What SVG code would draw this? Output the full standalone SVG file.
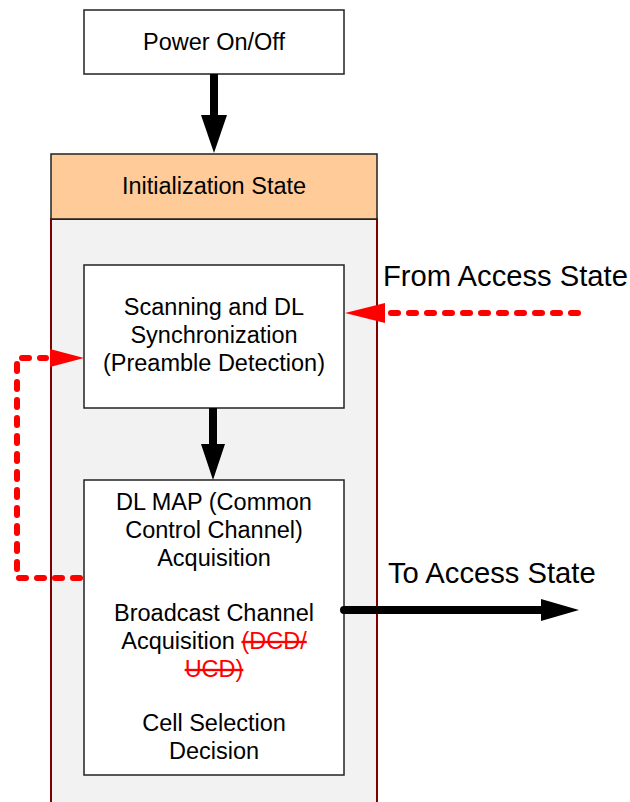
<svg xmlns="http://www.w3.org/2000/svg" width="630" height="802" viewBox="0 0 630 802">
<style>
.t{font-family:"Liberation Sans",Arial,sans-serif;font-size:23.5px;fill:#000;text-anchor:middle}
.big{font-family:"Liberation Sans",Arial,sans-serif;font-size:29.2px;fill:#000}
.box{fill:#fff;stroke:#222;stroke-width:1.5}
.red{fill:#ff0000;text-decoration:line-through}
.dash{fill:none;stroke:#ff0000;stroke-width:6;stroke-dasharray:7 11;stroke-linecap:round;stroke-linejoin:round}
.shaft{stroke:#000;stroke-width:8;fill:none}
</style>
<rect width="630" height="802" fill="#fff"/>
<g id="power">
<rect class="box" x="84" y="10" width="260" height="64"/>
<text class="t" x="214" y="50">Power On/Off</text>
</g>
<g id="init-state">
<rect x="51" y="219" width="326" height="590" fill="#f2f2f2" stroke="#7f0000" stroke-width="2"/>
<rect x="51" y="154" width="326" height="65" fill="#ffcc99" stroke="#222" stroke-width="1.5"/>
<text class="t" x="214" y="194">Initialization State</text>
</g>
<g id="scanning">
<rect class="box" x="84" y="265" width="260" height="143"/>
<text class="t" x="214" y="315">Scanning and DL</text>
<text class="t" x="214" y="343">Synchronization</text>
<text class="t" x="214" y="371">(Preamble Detection)</text>
</g>
<g id="dlmap">
<rect class="box" x="84" y="480" width="260" height="295"/>
<text class="t" x="214" y="510">DL MAP (Common</text>
<text class="t" x="214" y="538">Control Channel)</text>
<text class="t" x="214" y="566">Acquisition</text>
<text class="t" x="214" y="621">Broadcast Channel</text>
<text class="t" x="214" y="649">Acquisition <tspan class="red">(DCD/</tspan></text>
<text class="t" x="214" y="677"><tspan class="red">UCD)</tspan></text>
<text class="t" x="214" y="731">Cell Selection</text>
<text class="t" x="214" y="759">Decision</text>
</g>
<g id="labels">
<text class="big" x="383" y="286">From Access State</text>
<text class="big" x="388" y="583">To Access State</text>
</g>
<g id="connectors">
<line class="shaft" x1="214" y1="74" x2="214" y2="117"/>
<polygon points="201,115 227,115 214,153" fill="#000"/>
<line class="shaft" x1="213" y1="408" x2="213" y2="446"/>
<polygon points="201,444 225,444 213,480" fill="#000"/>
<line class="shaft" x1="344" y1="610" x2="545" y2="610" stroke-linecap="round"/>
<polygon points="541,599 541,621 579,610" fill="#000"/>
<path class="dash" d="M578,313 H388"/>
<polygon points="385,303 385,323 345,313" fill="#ff0000"/>
<path class="dash" d="M80,578 H17 V358 H46"/>
<polygon points="50,349 50,367 84,358" fill="#ff0000"/>
</g>
</svg>
